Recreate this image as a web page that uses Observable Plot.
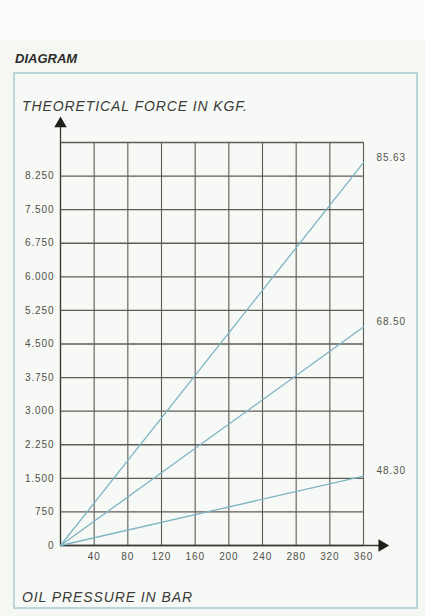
<!DOCTYPE html>
<html>
<head>
<meta charset="utf-8">
<script src="https://cdn.jsdelivr.net/npm/d3@7"></script>
<script src="https://cdn.jsdelivr.net/npm/@observablehq/plot@0.6"></script>
<style>
  html, body { margin: 0; padding: 0; }
  body { width: 425px; height: 616px; background: #f5f7f3; font-family: "Liberation Sans", Arial, sans-serif; overflow: hidden; }
  #wrap { position: relative; width: 425px; height: 616px; }
  #topband { position: absolute; left: 0; top: 0; width: 425px; height: 40px; background: #fbfcfb; }
  #box { position: absolute; left: 13px; top: 72px; width: 401px; height: 533px; border: 2px solid #b9d5da; background: #f7f9f6; }
  .t { position: absolute; color: #3b3b38; font-style: italic; white-space: nowrap; }
  #title { left: 15px; top: 51px; font-size: 13px; font-weight: bold; letter-spacing: 0px; color: #2c2c2a; }
  #ytitle { left: 22px; top: 98px; font-size: 14px; letter-spacing: 0.9px; }
  #xtitle { left: 22px; top: 589px; font-size: 14px; letter-spacing: 0.9px; }
  #chart { position: absolute; left: 0; top: 0; }
  #chart svg text { letter-spacing: 0.9px; }
</style>
</head>
<body>
<div id="wrap">
  <div id="topband"></div>
  <div id="box"></div>
  <div class="t" id="title">DIAGRAM</div>
  <div class="t" id="ytitle">THEORETICAL FORCE IN KGF.</div>
  <div class="t" id="xtitle">OIL PRESSURE IN BAR</div>
  <div id="chart"></div>
</div>
<script>
// ---- data ----
const pressureTicks = [40, 80, 120, 160, 200, 240, 280, 320, 360];
const pressureGrid = [0, 40, 80, 120, 160, 200, 240, 280, 320, 360];
const forceTicks = [0, 750, 1500, 2250, 3000, 3750, 4500, 5250, 6000, 6750, 7500, 8250];
const forceGrid = [0, 750, 1500, 2250, 3000, 3750, 4500, 5250, 6000, 6750, 7500, 8250, 9000];
const seriesLabels = ["85.63", "68.50", "48.30"];
const forceAtMax = [8550, 4880, 1550];   // force (kgf) at 360 bar
const maxPressure = 360;
const forceMax = 9000;
const yArrowAt = 9420;   // arrow tip position on force axis
const xArrowAt = 382;    // arrow tip position on pressure axis

// ---- derived tables ----
const lines = seriesLabels.flatMap((s, i) => [
  {series: s, p: 0, f: 0},
  {series: s, p: maxPressure, f: forceAtMax[i]}
]);
const ends = seriesLabels.map((s, i) => ({series: s, p: maxPressure, f: forceAtMax[i]}));

const fmt = d => d === 0 ? "0" : d3.format(",")(d).replace(",", ".");
const gridColor = "#5e5d54";

const chart = Plot.plot({
  width: 425,
  height: 616,
  marginLeft: 60,
  marginRight: 62,
  marginTop: 142,
  marginBottom: 71,
  style: {background: "transparent", fontFamily: "Liberation Sans, Arial, sans-serif", fontSize: "10px", color: "#4f4f48"},
  x: {domain: [0, maxPressure]},
  y: {domain: [0, forceMax]},
  marks: [
    Plot.ruleX(pressureGrid, {y1: 0, y2: forceMax, stroke: gridColor, strokeWidth: 1.1}),
    Plot.ruleY(forceGrid, {x1: 0, x2: maxPressure, stroke: gridColor, strokeWidth: 1.3}),
    Plot.ruleX([0], {y1: 0, y2: yArrowAt, stroke: "#3a3a35", strokeWidth: 1.3}),
    Plot.ruleY([0], {x1: 0, x2: xArrowAt, stroke: "#3a3a35", strokeWidth: 1.3}),
    Plot.dot([{p: 0, f: yArrowAt}], {x: "p", y: "f", symbol: "triangle", r: 4.6, fill: "#1e1e1a", stroke: "none"}),
    Plot.dot([{p: xArrowAt, f: 0}], {x: "p", y: "f", symbol: "triangle", r: 4.6, rotate: 90, fill: "#1e1e1a", stroke: "none"}),
    Plot.line(lines, {x: "p", y: "f", z: "series", stroke: "#7db4c2", strokeWidth: 1.3}),
    Plot.text(ends, {x: "p", y: "f", text: "series", dx: 13, dy: -5, textAnchor: "start", fill: "#55554d", fontSize: 10}),
    Plot.axisY({ticks: forceTicks, tickFormat: fmt, tickSize: 0, tickPadding: 6, label: null}),
    Plot.axisX({ticks: pressureTicks, tickFormat: d => String(d), tickSize: 0, tickPadding: 7, label: null})
  ]
});
document.getElementById("chart").appendChild(chart);
</script>
</body>
</html>
